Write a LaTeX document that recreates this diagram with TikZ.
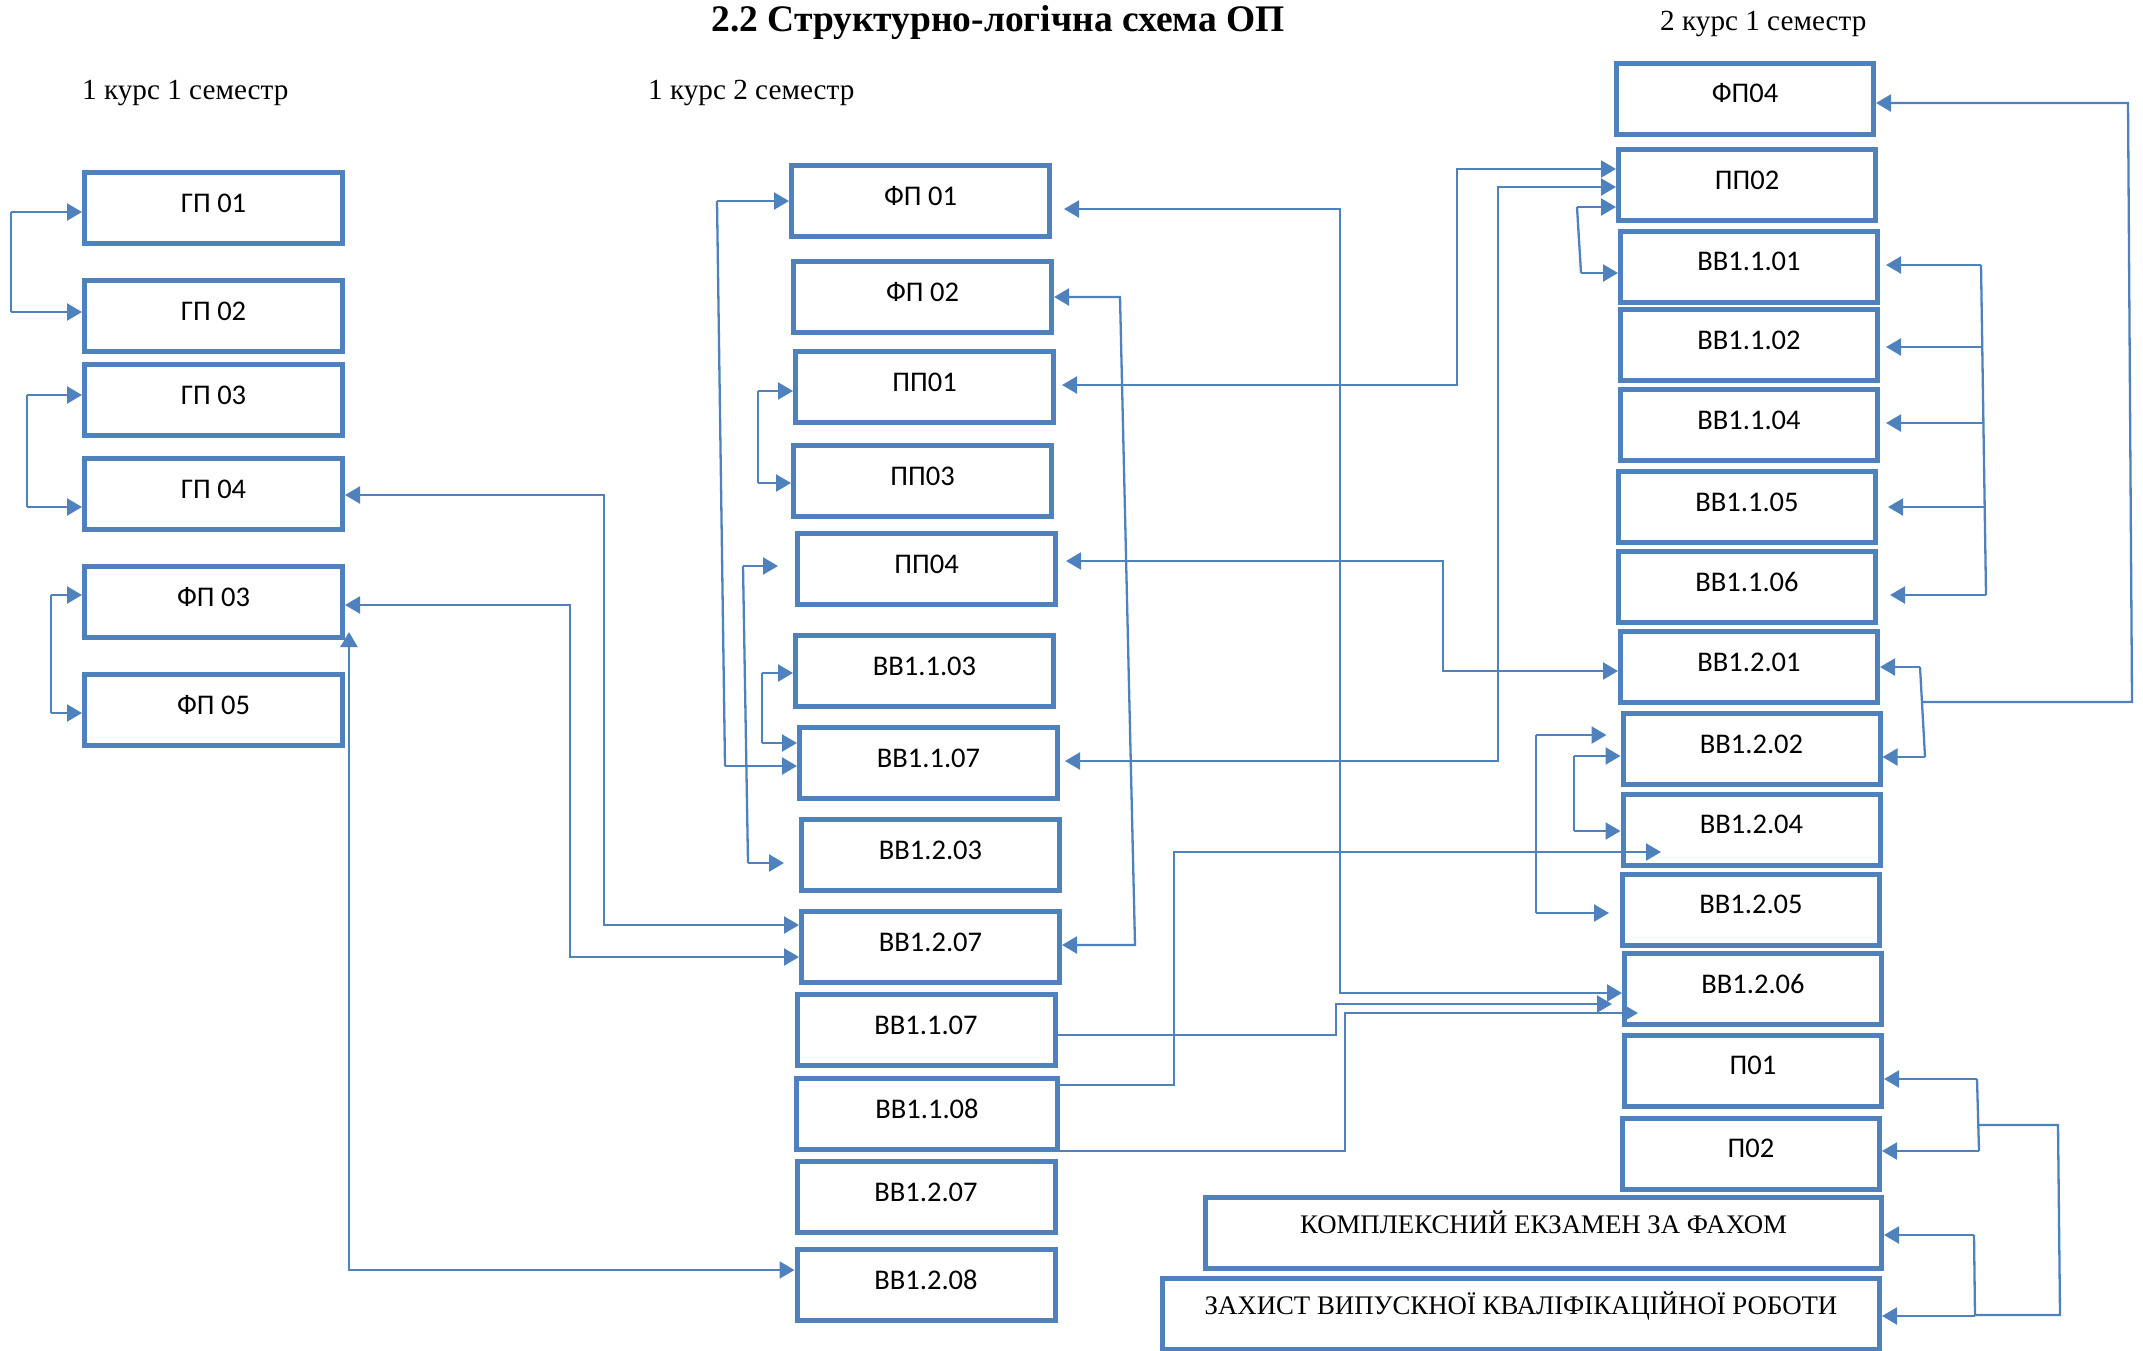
\documentclass[tikz,border=0pt]{standalone}
\usepackage{fontspec}
\setmainfont{Liberation Serif}
\newfontfamily\carl{Carlito}
\usetikzlibrary{arrows.meta}
\definecolor{bl}{RGB}{79,129,189}
\begin{document}
\begin{tikzpicture}[x=1pt,y=-1pt,
  >={Triangle[length=15pt,width=17pt]},
  box/.style={draw=bl,line width=5pt,minimum width=258pt,minimum height=71pt,inner sep=0pt,
     font=\carl\fontsize{28.5pt}{34pt}\selectfont,text height=20pt,text depth=12pt},
  bigbox/.style={box,font=\fontsize{26.8pt}{30pt}\selectfont,text height=14pt,text depth=13pt},
  lbl/.style={inner sep=0pt,font=\fontsize{29.2pt}{32pt}\selectfont},
  ln/.style={draw=bl,line width=2.3pt},
  arr/.style={ln,->},
  arrs/.style={ln,<->}]
\useasboundingbox (0,0) rectangle (2143,1350);
\clip (0,0) rectangle (2143,1350);

% headings
\node[anchor=base,inner sep=0pt,font=\bfseries\fontsize{37.5pt}{40pt}\selectfont] (title) at (998,31) {2.2 Структурно-логічна схема ОП};
\node[lbl,anchor=base west] (s11) at (82,99) {1 курс 1 семестр};
\node[lbl,anchor=base west] (s12) at (648,99) {1 курс 2 семестр};
\node[lbl,anchor=base west] (s21) at (1660,30) {2 курс 1 семестр};

% column 1
\node[box] (g1) at (213.5,208) {ГП 01};
\node[box] (g2) at (213.5,316) {ГП 02};
\node[box] (g3) at (213.5,400) {ГП 03};
\node[box] (g4) at (213.5,494) {ГП 04};
\node[box] (f3) at (213.5,602) {ФП 03};
\node[box] (f5) at (213.5,710) {ФП 05};

% column 2
\node[box] (f1) at (920.5,201) {ФП 01};
\node[box] (f2) at (922.5,297) {ФП 02};
\node[box] (p1) at (924.5,387) {ПП01};
\node[box] (p3) at (922.5,481) {ПП03};
\node[box] (p4) at (926.5,569) {ПП04};
\node[box] (b103) at (924.5,671) {ВВ1.1.03};
\node[box] (b107) at (928.5,763) {ВВ1.1.07};
\node[box] (b203) at (930.5,855) {ВВ1.2.03};
\node[box] (b207) at (930.5,947) {ВВ1.2.07};
\node[box] (b107x) at (926,1030) {ВВ1.1.07};
\node[box,minimum width=261pt] (b108) at (927,1114) {ВВ1.1.08};
\node[box] (b207x) at (926,1197) {ВВ1.2.07};
\node[box] (b208) at (926,1285) {ВВ1.2.08};

% column 3
\node[box,minimum width=257pt] (f4) at (1745,98.5) {ФП04};
\node[box,minimum width=257pt] (p2) at (1747,185) {ПП02};
\node[box,minimum width=257pt] (c101) at (1749,266.5) {ВВ1.1.01};
\node[box,minimum width=257pt] (c102) at (1749,345) {ВВ1.1.02};
\node[box,minimum width=257pt] (c104) at (1749,425) {ВВ1.1.04};
\node[box,minimum width=257pt] (c105) at (1747,507) {ВВ1.1.05};
\node[box,minimum width=257pt] (c106) at (1747,587) {ВВ1.1.06};
\node[box,minimum width=257pt] (c201) at (1749,667) {ВВ1.2.01};
\node[box,minimum width=257pt] (c202) at (1751.5,749) {ВВ1.2.02};
\node[box,minimum width=257pt] (c204) at (1751.5,829.5) {ВВ1.2.04};
\node[box,minimum width=257pt] (c205) at (1751,909.5) {ВВ1.2.05};
\node[box,minimum width=257pt] (c206) at (1753,989) {ВВ1.2.06};
\node[box,minimum width=257pt] (pr1) at (1753,1070.5) {П01};
\node[box,minimum width=257pt] (pr2) at (1751,1153.5) {П02};
\node[bigbox,minimum width=676pt] (kom) at (1543.5,1233) {КОМПЛЕКСНИЙ ЕКЗАМЕН ЗА ФАХОМ};
\node[bigbox,minimum width=717pt] (zah) at (1521,1314) {ЗАХИСТ ВИПУСКНОЇ КВАЛІФІКАЦІЙНОЇ РОБОТИ};

% C1
\coordinate (a1) at (11,212); \coordinate (a2) at (11,312);
\draw[ln] (a1) -- (a2);
\draw[arr] (a1) -- (a1 -| g1.west);
\draw[arr] (a2) -- (a2 -| g2.west);
% C2
\coordinate (a3) at (27,395); \coordinate (a4) at (27,507);
\draw[ln] (a3) -- (a4);
\draw[arr] (a3) -- (a3 -| g3.west);
\draw[arr] (a4) -- (a4 -| g4.west);
% C3
\coordinate (a5) at (51,595); \coordinate (a6) at (51,713);
\draw[ln] (a5) -- (a6);
\draw[arr] (a5) -- (a5 -| f3.west);
\draw[arr] (a6) -- (a6 -| f5.west);
% C4
\coordinate (c4a) at (604,495); \coordinate (c4b) at (604,925);
\draw[arrs] (c4a -| g4.east) -- (c4a) -- (c4b) -- (c4b -| b207.west);
% C5
\coordinate (c5a) at (570,605); \coordinate (c5b) at (570,957);
\draw[arrs] (c5a -| f3.east) -- (c5a) -- (c5b) -- (c5b -| b207.west);
% C6
\coordinate (c6b) at (349,1270);
\draw[arrs] ([xshift=4pt,yshift=8pt]f3.south east) -- (c6b) -- (c6b -| b208.west);
% C7
\coordinate (c7a) at (717,201); \coordinate (c7b) at (725,766);
\draw[ln] (c7a) -- (c7b);
\draw[arr] (c7a) -- (c7a -| f1.west);
\draw[arr] (c7b) -- (c7b -| b107.west);
% C8
\coordinate (c8a) at (758,391); \coordinate (c8b) at (758,483);
\draw[ln] (c8a) -- (c8b);
\draw[arr] (c8a) -- (c8a -| p1.west);
\draw[arr] (c8b) -- (c8b -| p3.west);
% C9
\coordinate (c9a) at (743,566); \coordinate (c9b) at (748,863);
\draw[ln] (c9a) -- (c9b);
\draw[arr,shorten >=17pt] (c9a) -- (c9a -| p4.west);
\draw[arr,shorten >=15pt] (c9b) -- (c9b -| b203.west);
% C10
\coordinate (c10a) at (762,673); \coordinate (c10b) at (762,743);
\draw[ln] (c10a) -- (c10b);
\draw[arr] (c10a) -- (c10a -| b103.west);
\draw[arr] (c10b) -- (c10b -| b107.west);
% C11
\coordinate (c11a) at (1340,209); \coordinate (c11b) at (1340,993);
\draw[arrs,shorten <=12pt] (c11a -| f1.east) -- (c11a) -- (c11b) -- (c11b -| c206.west);
% C12
\coordinate (c12a) at (1120,297); \coordinate (c12b) at (1135,945);
\draw[arrs] (c12a -| f2.east) -- (c12a) -- (c12b) -- (c12b -| b207.east);
% C13
\coordinate (c13a) at (1457,385); \coordinate (c13b) at (1457,169);
\draw[arrs,shorten <=6pt] (c13a -| p1.east) -- (c13a) -- (c13b) -- (c13b -| p2.west);
% C14
\coordinate (c14a) at (1498,761); \coordinate (c14b) at (1498,187);
\draw[arrs,shorten <=5pt] (c14a -| b107.east) -- (c14a) -- (c14b) -- (c14b -| p2.west);
% C15
\coordinate (c15a) at (1577,207); \coordinate (c15b) at (1581,273);
\draw[ln] (c15a) -- (c15b);
\draw[arr] (c15a) -- (c15a -| p2.west);
\draw[arr] (c15b) -- (c15b -| c101.west);
% C16
\coordinate (c16a) at (1443,561); \coordinate (c16b) at (1443,671);
\draw[arrs,shorten <=8pt] (c16a -| p4.east) -- (c16a) -- (c16b) -- (c16b -| c201.west);
% C17
\coordinate (c17a) at (1336,1035); \coordinate (c17b) at (1336,1004);
\draw[arr,shorten >=10pt] (c17a -| b107x.east) -- (c17a) -- (c17b) -- (c17b -| c206.west);
% C18
\coordinate (c18a) at (1174,1085); \coordinate (c18b) at (1174,852); \coordinate (c18e) at (1661,852);
\draw[arr] (c18a -| b108.east) -- (c18a) -- (c18b) -- (c18e);
% C19
\coordinate (c19a) at (1345,1151); \coordinate (c19b) at (1345,1013); \coordinate (c19e) at (1638,1013);
\draw[arr] (c19a -| b108.east) -- (c19a) -- (c19b) -- (c19e);
% C20
\coordinate (r1) at (1981,265); \coordinate (r2) at (1982,347); \coordinate (r3) at (1983,423);
\coordinate (r4) at (1984,507); \coordinate (r5) at (1986,595);
\draw[ln] (r1) -- (r5);
\draw[arr,shorten >=6pt] (r1) -- (r1 -| c101.east);
\draw[arr,shorten >=6pt] (r2) -- (r2 -| c102.east);
\draw[arr,shorten >=6pt] (r3) -- (r3 -| c104.east);
\draw[arr,shorten >=10pt] (r4) -- (r4 -| c105.east);
\draw[arr,shorten >=12pt] (r5) -- (r5 -| c106.east);
% C21
\coordinate (q0) at (2128,103); \coordinate (q2) at (2132,702); \coordinate (q3) at (1922,702);
\coordinate (q4) at (1920,667); \coordinate (q5) at (1925,757);
\draw[arr] (q3) -- (q2) -- (q0) -- (q0 -| f4.east);
\draw[ln] (q4) -- (q5);
\draw[arr] (q4) -- (q4 -| c201.east);
\draw[arr] (q5) -- (q5 -| c202.east);
% C22
\coordinate (s1) at (1536,735); \coordinate (s2) at (1536,913);
\coordinate (s3) at (1574,756); \coordinate (s4) at (1574,831);
\draw[ln] (s1) -- (s2);
\draw[arr,shorten >=14pt] (s1) -- (s1 -| c202.west);
\draw[arr,shorten >=11pt] (s2) -- (s2 -| c205.west);
\draw[ln] (s3) -- (s4);
\draw[arr] (s3) -- (s3 -| c202.west);
\draw[arr] (s4) -- (s4 -| c204.west);
% C23
\coordinate (t1) at (1977,1079); \coordinate (t2) at (1979,1151);
\coordinate (t3) at (1979,1125); \coordinate (t4) at (2058,1125);
\coordinate (t5) at (2060,1315); \coordinate (t6) at (1975,1315);
\coordinate (t7) at (1974,1235); \coordinate (t8) at (1975,1316);
\draw[ln] (t1) -- (t2);
\draw[arr] (t1) -- (t1 -| pr1.east);
\draw[arr] (t2) -- (t2 -| pr2.east);
\draw[ln] (t3) -- (t4) -- (t5) -- (t6);
\draw[ln] (t7) -- (t8);
\draw[arr] (t7) -- (t7 -| kom.east);
\draw[arr] (t8) -- (t8 -| zah.east);
\end{tikzpicture}
\end{document}
